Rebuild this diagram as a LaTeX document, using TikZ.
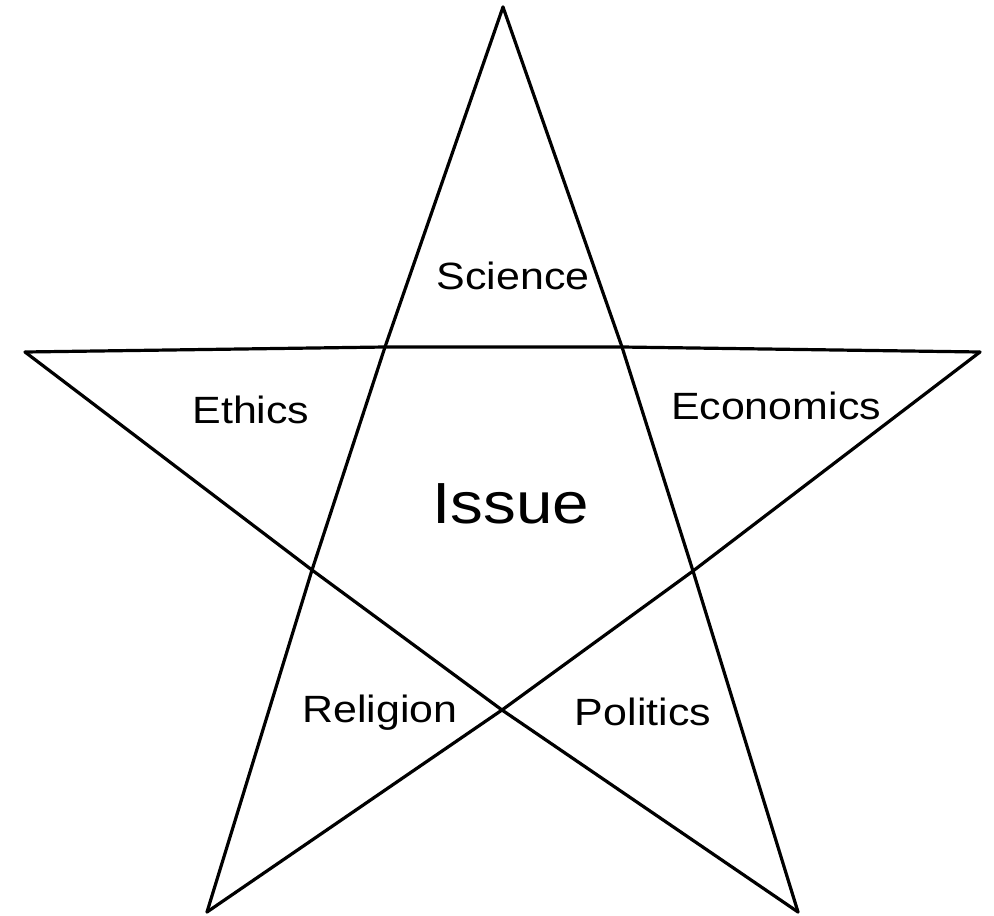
\documentclass[tikz,border=0pt]{standalone}
\usepackage{fontspec}
\setmainfont{Liberation Sans}
\begin{document}
\begin{tikzpicture}[x=1pt,y=-1pt,
  edge/.style={line width=3.2pt, line join=miter, line cap=round},
  lbl/.style={anchor=base, inner sep=0pt, font=\fontsize{38}{42}\selectfont},
  big/.style={anchor=base, inner sep=0pt, font=\fontsize{58}{62}\selectfont}]
\useasboundingbox (0,0) rectangle (994,916);
% tips
\coordinate (T) at (503,7);
\coordinate (L) at (25,352);
\coordinate (R) at (980,352);
\coordinate (BL) at (207,912);
\coordinate (BR) at (798,912);
% inner crossings
\coordinate (A) at (385,347);
\coordinate (B) at (622,347);
\coordinate (C) at (312,570);
\coordinate (D) at (502,710);
\coordinate (E) at (693,571);
% edges
\draw[edge] (L) -- (A) -- (B) -- (R);
\draw[edge] (L) -- (C) -- (D) -- (BR);
\draw[edge] (R) -- (E) -- (D) -- (BL);
\draw[edge] (T) -- (A) -- (C) -- (BL);
\draw[edge] (T) -- (B) -- (E) -- (BR);
% labels
\node[lbl] (sci) at (513,289) {\scalebox{1.13}[1]{Science}};
\node[lbl] (eth) at (251,423) {\scalebox{1.13}[1]{Ethics}};
\node[lbl] (eco) at (776,419) {\scalebox{1.13}[1]{Economics}};
\node[big] (iss) at (511,523) {\scalebox{1.13}[1]{Issue}};
\node[lbl] (rel) at (380,722) {\scalebox{1.13}[1]{Religion}};
\node[lbl] (pol) at (643,725) {\scalebox{1.13}[1]{Politics}};
\end{tikzpicture}
\end{document}
